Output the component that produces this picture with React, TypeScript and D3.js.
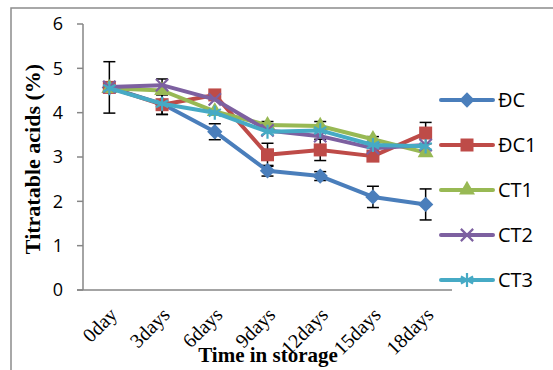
import * as d3 from 'd3';

const categories = ['0day', '3days', '6days', '9days', '12days', '15days', '18days'];
const seriesNames = ['ĐC', 'ĐC1', 'CT1', 'CT2', 'CT3'];
const dcValues = [4.57, 4.2, 3.57, 2.69, 2.57, 2.1, 1.93];
const dcErr = [0.58, 0.24, 0.18, 0.12, 0.1, 0.24, 0.35];
const dc1Values = [4.57, 4.18, 4.4, 3.05, 3.16, 3.02, 3.54];
const dc1Err = [0, 0.22, 0, 0.26, 0.24, 0, 0.24];
const ct1Values = [4.55, 4.5, 4.03, 3.72, 3.7, 3.4, 3.1];
const ct1Err = [0, 0, 0, 0.08, 0.1, 0.06, 0];
const ct2Values = [4.58, 4.62, 4.3, 3.6, 3.47, 3.2, 3.27];
const ct2Err = [0, 0.14, 0, 0, 0, 0, 0];
const ct3Values = [4.55, 4.2, 4.0, 3.57, 3.6, 3.27, 3.24];
const ct3Err = [0, 0, 0, 0, 0, 0, 0];
const yTicks = [0, 1, 2, 3, 4, 5, 6];

const COLORS = ['#4A7EBB', '#BE4B48', '#98B954', '#7D60A0', '#46AAC5'];
const SYMBOLS: any[] = [
  { type: d3.symbolDiamond2, size: 150, fill: true },
  { type: d3.symbolSquare, size: 169, fill: true },
  { type: d3.symbolTriangle, size: 110, fill: true },
  { type: d3.symbolTimes, size: 100, fill: false },
  { type: d3.symbolAsterisk, size: 140, fill: false },
];

const W = 553, H = 370;
const left = 83, right = 452, top = 24, bottom = 290;

export default function App() {
  const series = [dcValues, dc1Values, ct1Values, ct2Values, ct3Values];
  const errs = [dcErr, dc1Err, ct1Err, ct2Err, ct3Err];

  const x = d3.scalePoint<string>().domain(categories).range([left, right]).padding(0.5);
  const y = d3.scaleLinear().domain([0, 6]).range([bottom, top]);
  const line = d3.line<number>().x((_, i) => x(categories[i])!).y(d => y(d));

  const marker = (k: number, cx: number, cy: number, key: string) => {
    const s = SYMBOLS[k];
    const p = d3.symbol().type(s.type).size(s.size)()!;
    return (
      <path key={key} d={p} transform={`translate(${cx},${cy})`}
        fill={s.fill ? COLORS[k] : 'none'} stroke={COLORS[k]} strokeWidth={s.fill ? 0 : 2.2} />
    );
  };

  return (
    <svg width={W} height={H} style={{ position: 'absolute', left: 0, top: 0, background: '#fff' }}>
      <rect x={11} y={8} width={700} height={700} fill="none" stroke="#8c8c8c" strokeWidth={1.5} />

      {/* axes */}
      <line x1={left} x2={left} y1={top} y2={bottom} stroke="#868686" strokeWidth={1.5} />
      <line x1={left - 6} x2={right} y1={bottom} y2={bottom} stroke="#868686" strokeWidth={1.5} />
      {yTicks.map(t => (
        <g key={t}>
          <line x1={left - 6} x2={left} y1={y(t)} y2={y(t)} stroke="#868686" strokeWidth={1.5} />
          <text x={63} y={y(t)} dy="0.36em" textAnchor="end" fontFamily="Open Sans" fontSize={18} fill="#000">{t}</text>
        </g>
      ))}
      {categories.map(c => (
        <text key={c} transform={`translate(${x(c)! + 9},${316}) rotate(-45)`} textAnchor="end"
          fontFamily="Liberation Serif" fontSize={20} fill="#000">{c}</text>
      ))}

      <text transform={`translate(40,${(top + bottom) / 2 + 2}) rotate(-90)`} textAnchor="middle"
        fontFamily="Liberation Serif" fontWeight="bold" fontSize={22} fill="#000">Titratable acids (%)</text>
      <text x={268} y={362} textAnchor="middle" fontFamily="Liberation Serif" fontWeight="bold" fontSize={21} fill="#000">Time in storage</text>

      {/* error bars */}
      {series.map((vals, k) => vals.map((v, i) => errs[k][i] > 0 && (
        <g key={`e${k}-${i}`} stroke="#000" strokeWidth={1.5}>
          <line x1={x(categories[i])} x2={x(categories[i])} y1={y(v - errs[k][i])} y2={y(v + errs[k][i])} />
          <line x1={x(categories[i])! - 6} x2={x(categories[i])! + 6} y1={y(v - errs[k][i])} y2={y(v - errs[k][i])} />
          <line x1={x(categories[i])! - 6} x2={x(categories[i])! + 6} y1={y(v + errs[k][i])} y2={y(v + errs[k][i])} />
        </g>
      )))}

      {/* series */}
      {series.map((vals, k) => (
        <g key={seriesNames[k]}>
          <path d={line(vals)!} fill="none" stroke={COLORS[k]} strokeWidth={4} strokeLinejoin="round" />
          {vals.map((v, i) => marker(k, x(categories[i])!, y(v), `m${k}-${i}`))}
        </g>
      ))}

      {/* legend */}
      {seriesNames.map((n, k) => {
        const ly = 100 + k * 45;
        return (
          <g key={n}>
            <line x1={441} x2={493} y1={ly} y2={ly} stroke={COLORS[k]} strokeWidth={4} strokeLinecap="round" />
            {marker(k, 467, ly, `lm${k}`)}
            <text x={498} y={ly} dy="0.36em" fontFamily="Open Sans" fontSize={20} fill="#000">{n}</text>
          </g>
        );
      })}
    </svg>
  );
}
